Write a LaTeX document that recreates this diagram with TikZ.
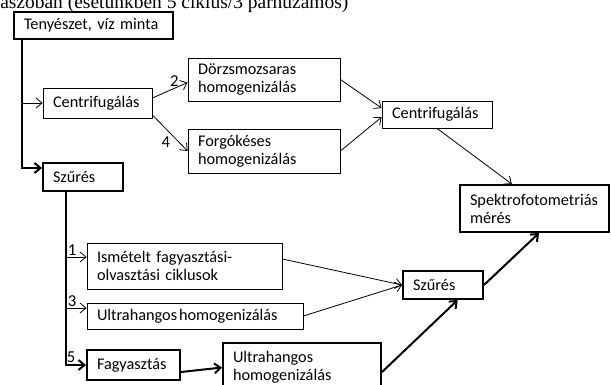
\documentclass[tikz,border=0pt]{standalone}
\usepackage{fontspec}
\usetikzlibrary{arrows.meta}
\setmainfont{Carlito}
\newfontfamily\capfont{Liberation Serif}
\newcommand{\stepblk}[7]{%
  \pgfmathsetmacro{\blkcx}{(#2+#3)/2}%
  \pgfmathsetmacro{\blkcy}{(#4+#5)/2}%
  \pgfmathsetmacro{\blkw}{(#3-#2)*0.75}%
  \pgfmathsetmacro{\blkh}{(#5-#4)*0.75}%
  \pgfmathsetmacro{\blktw}{(#3-#2)*0.75-15}%
  \node[blk, minimum width=\blkw pt, minimum height=\blkh pt, text width=\blktw pt, #7] (#1) at (\blkcx,\blkcy) {#6};}

\begin{document}
\begin{tikzpicture}[x=0.75pt, y=-0.75pt,
  >={Straight Barb[length=4.5pt, width=7.5pt]},
  blk/.style={draw, line width=0.6pt, align=left, inner xsep=7.5pt, inner ysep=1pt,
              font=\fontsize{12.2pt}{13.6pt}\selectfont},
  thk/.style={line width=1.5pt},
  thn/.style={line width=0.6pt},
  lbl/.style={font=\fontsize{12.5pt}{14pt}\selectfont, inner sep=1pt}]
\useasboundingbox (0,0) rectangle (611,385);
\clip (0,0) rectangle (611,385);
% caption line, cut at the top
\node[anchor=base west, inner sep=0pt, font=\capfont\fontsize{14.6pt}{17pt}\selectfont] (cim) at (0,8.5)
  {ászóban (esetünkben 5 ciklus/3 párhuzamos)};
% boxes
\stepblk{tenyeszet}{14}{173}{12}{39}{Tenyészet, víz minta}{thk}
\stepblk{centr}{43}{152}{88}{118}{Centrifugálás}{}
\stepblk{dorzs}{188}{340}{58}{101}{Dörzsmozsaras\\homogenizálás}{}
\stepblk{forgo}{188}{340}{129}{173}{Forgókéses\\homogenizálás}{}
\stepblk{centrb}{382}{492}{101}{128}{Centrifugálás}{}
\stepblk{spektro}{460}{609}{185}{232}{Spektrofotometriás\\mérés}{thk}
\stepblk{szura}{43}{123}{163}{191}{Szűrés}{thk}
\stepblk{ismet}{87}{282}{243}{289}{Ismételt fagyasztási-\\olvasztási ciklusok}{}
\stepblk{ultra}{87}{303}{303}{329}{Ultrahangos\hspace{0.12em}homogenizálás}{}
\stepblk{fagy}{87}{180}{350}{380}{Fagyasztás}{thk}
\stepblk{ultrb}{223}{381}{343}{392}{Ultrahangos\\homogenizálás}{thk}
\stepblk{szurb}{403}{483}{271}{299}{Szűrés}{thk}
% trunks
\coordinate (trunka) at (22,39);
\coordinate (trunkb) at (66,191);
\coordinate (szurin) at ([yshift=6.75pt]szura.west);
\coordinate (isin) at ([yshift=6.75pt]ismet.west);
\coordinate (ulin) at ([yshift=6pt]ultra.west);
\draw[thk,->] (trunka) |- (szurin);
\draw[thn,->] (trunka |- centr.west) -- (centr.west);
\draw[thk,->] (trunkb) |- node[lbl, pos=0.63, above]{5} (fagy.west);
\draw[thn,->] (trunkb |- isin) -- node[lbl, pos=0.3, above]{1} (isin);
\draw[thn,->] (trunkb |- ulin) -- node[lbl, pos=0.3, above]{3} (ulin);
% upper branch
\draw[thn,->] ([yshift=3.75pt]centr.east) -- node[lbl, pos=0.62, above]{2} ([yshift=-2.25pt]dorzs.west);
\draw[thn,->] ([yshift=-9pt]centr.east) -- node[lbl, pos=0.55, below left]{4} (forgo.west);
\draw[thn,->] (dorzs.east) -- ([yshift=4.8pt]centrb.west);
\draw[thn,->] (forgo.east) -- ([yshift=-2pt]centrb.west);
\draw[thn,->] (centrb.south) -- ([xshift=-17pt]spektro.north);
% lower branch
\draw[thn,->] ([yshift=5.25pt]ismet.east) -- (szurb.west);
\draw[thn,->] (ultra.east) -- (szurb.west);
\draw[thk,->] ([yshift=-5.25pt]fagy.east) -- (ultrb.west);
\draw[thk,->] ([yshift=-3.4pt]ultrb.east) -- ([xshift=11pt]szurb.south);
\draw[thk,->] (szurb.east) -- ([xshift=3.4pt]spektro.south);
\end{tikzpicture}
\end{document}
